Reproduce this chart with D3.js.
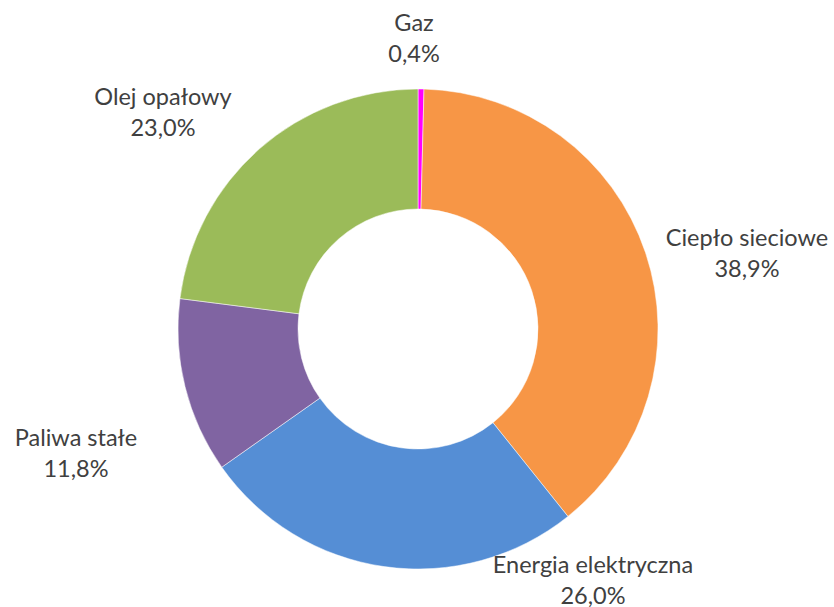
<!DOCTYPE html>
<html>
<head>
<meta charset="utf-8">
<script src="https://cdn.jsdelivr.net/npm/d3@7"></script>
<style>
  body { margin: 0; background: #fff; }
  text { font-family: Lato, "Open Sans", sans-serif; fill: #404040; }
</style>
</head>
<body>
<script>
const WIDTH  = 834;
const HEIGHT = 607;

// Slices, clockwise from 12 o'clock
const categories = ["Gaz", "Ciepło sieciowe", "Energia elektryczna", "Paliwa stałe", "Olej opałowy"];
const shares     = [0.4, 38.9, 26.0, 11.8, 23.0];
const sliceColors = ["#FF00FF", "#F79646", "#558ED5", "#8064A2", "#9BBB59"];

// Where Excel put each label (centre x, first baseline y)
const labelPos = [[414, 31], [747, 246], [593, 573], [76, 446], [163, 105]];

const CX = 418, CY = 329;
const R_OUT = 240, R_IN = 120;

const svg = d3.select("body").append("svg")
  .attr("width", WIDTH)
  .attr("height", HEIGHT);

const pie = d3.pie().sort(null).value(d => d);
const arc = d3.arc().innerRadius(R_IN).outerRadius(R_OUT);

const arcs = pie(shares);

// Donut slices
svg.append("g")
  .attr("transform", "translate(" + CX + "," + CY + ")")
  .selectAll("path")
  .data(arcs)
  .enter()
  .append("path")
    .attr("d", arc)
    .style("fill", (d, i) => sliceColors[i])
    .style("stroke", "#fff")
    .style("stroke-width", 0.5);

// Two-line labels: name + percent
const fmt = v => v.toFixed(1).replace(".", ",") + "%";
const labels = svg.append("g")
  .selectAll("text")
  .data(categories)
  .enter()
  .append("text")
    .attr("text-anchor", "middle")
    .style("font-size", "23.5px")
    .attr("x", (d, i) => labelPos[i][0])
    .attr("y", (d, i) => labelPos[i][1]);

labels.append("tspan")
  .attr("x", (d, i) => labelPos[i][0])
  .text(d => d);
labels.append("tspan")
  .attr("x", (d, i) => labelPos[i][0])
  .attr("dy", 31)
  .text((d, i) => fmt(shares[i]));
</script>
</body>
</html>
